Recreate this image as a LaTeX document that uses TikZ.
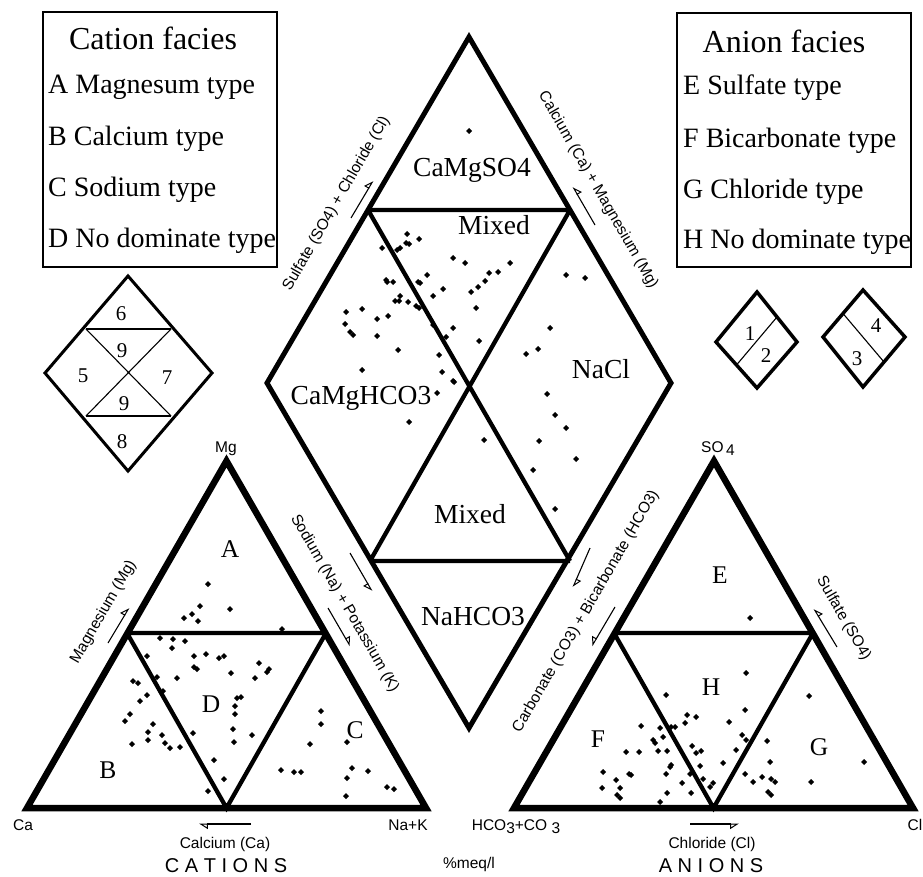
\documentclass[tikz,border=0pt]{standalone}
\usepackage{fontspec}
\setmainfont{Liberation Serif}
\setsansfont{Liberation Sans}
\usetikzlibrary{arrows.meta,calc}
\newcommand\myfs[1]{\fontsize{#1}{#1}\selectfont}
\begin{document}
\begin{tikzpicture}[x=1pt,y=-1pt,
  outer/.style={line width=6.5pt,line join=miter},
  innerl/.style={line width=4.3pt},
  dout/.style={line width=5pt,line join=miter},
  dinn/.style={line width=4.3pt},
  sdout/.style={line width=3pt,line join=miter},
  boxl/.style={line width=1.4pt},
  big/.style={font=\myfs{32},anchor=base,inner sep=0pt},
  item/.style={font=\myfs{28},anchor=base west,inner sep=0pt},
  reg/.style={font=\myfs{27.5},anchor=base,inner sep=0pt},
  tlet/.style={font=\myfs{25.5},anchor=base,inner sep=0pt},
  num/.style={font=\myfs{21},anchor=base,inner sep=0pt},
  ax/.style={font=\sffamily\myfs{15.5},inner sep=0pt},
  axb/.style={ax,anchor=base},
  ttl/.style={font=\sffamily\myfs{20},anchor=base,inner sep=0pt},
  arrL/.style={line width=1.1pt,-{Triangle[open,harpoon,length=8pt,width=10pt,line width=1pt]}},
  arrR/.style={line width=1.1pt,-{Triangle[open,harpoon,swap,length=8pt,width=10pt,line width=1pt]}},
  dot/.style={fill=black},
]
\useasboundingbox (0,0) rectangle (923,877);
\fill[white] (0,0) rectangle (923,877);

% ---------- legend boxes ----------
\draw[boxl] (43,12) rectangle (277,267);
\node[big] (ct) at (153,50) {Cation facies};
\node[item] (ca) at (48,94) {A Magnesum type};
\node[item] (cb) at (48,146) {B Calcium type};
\node[item] (cc) at (48,197) {C Sodium type};
\begin{scope}
\clip (40,200) rectangle (277,267);
\node[item] (cd) at (48,248) {D No dominate type};
\end{scope}

\draw[boxl] (677,13) rectangle (911,267);
\node[big] (at) at (784,53) {Anion facies};
\node[item] (ae) at (683,95) {E Sulfate type};
\node[item] (af) at (683,148) {F Bicarbonate type};
\node[item] (ag) at (683,199) {G Chloride type};
\begin{scope}
\clip (675,205) rectangle (911,267);
\node[item] (ah) at (683,249) {H No dominate type};
\end{scope}

% ---------- small diamond (left) ----------
\coordinate (sT) at (128,276); \coordinate (sL) at (45,373);
\coordinate (sR) at (212,373); \coordinate (sB) at (128,471);
\coordinate (s1) at (86,329); \coordinate (s2) at (171,329);
\coordinate (s3) at (86,416); \coordinate (s4) at (171,416);
\draw[line width=2pt] (s1) -- (s2) (s3) -- (s4);
\draw[line width=1.1pt] (s1) -- (s4) (s2) -- (s3);
\draw[sdout] (sT) -- (sR) -- (sB) -- (sL) -- cycle;
\node[num] (n6) at (121,320) {6};
\node[num] (n9a) at (122,357) {9};
\node[num] (n5) at (83,382) {5};
\node[num] (n7) at (167,384) {7};
\node[num] (n9b) at (124,410) {9};
\node[num] (n8) at (122,448) {8};

% ---------- small diamonds (right) ----------
\coordinate (aT) at (757,292); \coordinate (aL) at (716,342);
\coordinate (aR) at (797,342); \coordinate (aB) at (757,388);
\draw[line width=1.1pt] ($(aT)!0.5!(aR)$) -- ($(aL)!0.5!(aB)$);
\draw[sdout,line width=3.5pt] (aT) -- (aR) -- (aB) -- (aL) -- cycle;
\node[num] (n1) at (750,340) {1};
\node[num] (n2) at (766,362) {2};

\coordinate (bT) at (863,290); \coordinate (bL) at (823,337);
\coordinate (bR) at (905,337); \coordinate (bB) at (863,387);
\draw[line width=1.1pt] ($(bT)!0.5!(bL)$) -- ($(bR)!0.5!(bB)$);
\draw[sdout,line width=3.5pt] (bT) -- (bR) -- (bB) -- (bL) -- cycle;
\node[num] (n4) at (876,332) {4};
\node[num] (n3) at (857,365) {3};

% ---------- central diamond ----------
\coordinate (dT) at (469,37); \coordinate (dL) at (267,383);
\coordinate (dR) at (671,383); \coordinate (dB) at (469,728);
\coordinate (dUL) at (368,210); \coordinate (dUR) at (570,210);
\coordinate (dLL) at (370,561); \coordinate (dLR) at (570,561);
\draw[dinn] (dUL) -- (dUR) (dLL) -- (dLR) (dUL) -- (dLR) (dUR) -- (dLL);
\draw[dout] (dT) -- (dR) -- (dB) -- (dL) -- cycle;
\node[reg] (r1) at (472,177) {CaMgSO4};
\node[reg] (r2) at (494,235) {Mixed};
\node[reg] (r3) at (361,404) {CaMgHCO3};
\node[reg] (r4) at (601,378) {NaCl};
\node[reg] (r5) at (470,523) {Mixed};
\node[reg] (r6) at (473,625) {NaHCO3};

% ---------- cation triangle ----------
\coordinate (cT) at (226.5,461); \coordinate (cL) at (27,808);
\coordinate (cR) at (426,808); \coordinate (cML) at (127,633);
\coordinate (cMR) at (326,633); \coordinate (cBM) at (226.5,808);
\draw[innerl] (cML) -- (cMR) (cML) -- (cBM) -- (cMR);
\draw[outer] (cT) -- (cR) -- (cL) -- cycle;
\node[tlet] (lA) at (230,557) {A};
\node[tlet] (lB) at (108,778) {B};
\node[tlet] (lC) at (355,738) {C};
\node[tlet] (lD) at (211,712) {D};

% ---------- anion triangle ----------
\coordinate (nT) at (714,461); \coordinate (nL) at (514,808);
\coordinate (nR) at (913,808); \coordinate (nML) at (614,633);
\coordinate (nMR) at (813,633); \coordinate (nBM) at (713.5,808);
\draw[innerl] (nML) -- (nMR) (nML) -- (nBM) -- (nMR);
\draw[outer] (nT) -- (nR) -- (nL) -- cycle;
\node[tlet] (lE) at (720,583) {E};
\node[tlet] (lF) at (598,747) {F};
\node[tlet] (lG) at (819,755) {G};
\node[tlet] (lH) at (711,695) {H};

% ---------- axis texts ----------
\node[axb] (mg) at (226,452) {Mg};
\node[axb] (ca0) at (23,830) {Ca};
\node[axb] (nak) at (408,830) {Na+K};
\node[axb] (cac) at (225,848) {Calcium (Ca)};
\node[ttl] (cat) at (226,872) {C A T I O N S};
\node[axb] (so4) at (718,452) {SO\,\raisebox{-3pt}{4}};
\node[axb] (hco) at (516,830) {HCO\raisebox{-3pt}{3}+CO\ \raisebox{-3pt}{3}};
\node[axb] (cl) at (915,830) {Cl};
\node[axb] (chl) at (712,848) {Chloride (Cl)};
\node[ttl] (ani) at (711,872) {A N I O N S};
\node[axb] (meq) at (469,868) {\%meq/l};

\node[ax,rotate=60] (t1) at (336.5,203.5) {Sulfate (SO4) + Chloride (Cl)};
\node[ax,rotate=-60] (t2) at (598,190) {Calcium (Ca) + Magnesium (Mg)};
\node[ax,rotate=60] (t3) at (586,611.5) {Carbonate (CO3) + Bicarbonate (HCO3)};
\node[ax,rotate=60] (t4) at (103.5,612) {Magnesium (Mg)};
\node[ax,rotate=-60] (t5) at (344.5,603.5) {Sodium (Na) + Potassium (K)};
\node[ax,rotate=-60] (t6) at (843.5,618.5) {Sulfate (SO4)};

% ---------- arrows ----------
\coordinate (a1s) at (351,218); \coordinate (a1e) at (373,181);
\coordinate (a2s) at (595,225); \coordinate (a2e) at (573,187);
\coordinate (a3s) at (350,553); \coordinate (a3e) at (372,591);
\coordinate (a4s) at (328,608); \coordinate (a4e) at (350,646);
\coordinate (a5s) at (590,548); \coordinate (a5e) at (573,587);
\coordinate (a6s) at (615,607); \coordinate (a6e) at (592,646);
\coordinate (a7s) at (108,643); \coordinate (a7e) at (129,608);
\coordinate (a8s) at (251,824); \coordinate (a8e) at (199,824);
\coordinate (a9s) at (690,824); \coordinate (a9e) at (739,824);
\coordinate (a10s) at (837,647); \coordinate (a10e) at (814,609);
\draw[arrL] (a1s) -- (a1e);
\draw[arrR] (a2s) -- (a2e);
\draw[arrR] (a3s) -- (a3e);
\draw[arrL] (a4s) -- (a4e);
\draw[arrL] (a5s) -- (a5e);
\draw[arrR] (a6s) -- (a6e);
\draw[arrL] (a7s) -- (a7e);
\draw[arrL] (a8s) -- (a8e);
\draw[arrR] (a9s) -- (a9e);
\draw[arrR] (a10s) -- (a10e);

% ---------- data points ----------
\foreach \px/\py in {208/584,200/606,192/614,184/618,198/621,230/609,282/629,160/638,173/639,185/641,172/648,147/656,194/656,206/654,219/658,224/656,194/667,197/669,231/673,259/663,269/669,267/672,255/678,177/678,157/677,133/681,138/683,163/691,147/695,140/701,237/698,241/697,235/706,235/714,130/714,125/721,153/724,148/732,162/735,193/733,233/729,252/735,148/740,165/743,170/748,180/747,132/744,234/742,321/711,321/724,310/744,347/742,214/760,224/779,208/791,281/770,294/772,301/772,352/768,368/771,347/778,387/787,394/789,346/796}
  \fill[dot] (\px,\py) +(-3,0) -- +(0,3) -- +(3,0) -- +(0,-3) -- cycle;
\foreach \px/\py in {750/618,746/673,666/695,745/710,809/696,687/715,696/717,685/723,729/722,641/726,660/728,671/727,675/727,663/737,742/735,653/740,746/740,767/741,655/743,692/746,658/751,667/751,626/752,639/752,696/753,701/751,736/750,723/763,770/762,864/762,671/765,700/766,670/767,603/772,629/774,631/775,666/774,690/774,745/774,762/777,771/779,775/782,703/779,713/783,616/780,682/783,753/782,811/782,710/787,602/788,620/788,667/793,691/793,768/792,771/795,617/795,620/798,660/802}
  \fill[dot] (\px,\py) +(-3,0) -- +(0,3) -- +(3,0) -- +(0,-3) -- cycle;
\foreach \px/\py in {469/131,407/234,419/239,406/243,409/244,400/248,397/250,382/248,453/258,465/263,510/263,498/272,489/273,485/281,478/287,471/292,427/275,418/282,420/283,386/280,387/282,393/282,443/289,433/296,400/296,395/301,399/301,408/302,416/306,419/308,362/309,346/312,476/308,388/316,377/319,345/324,350/332,353/335,377/336,453/328,446/337,433/325,479/341,398/350,439/355,362/370,442/372,453/381,437/393,409/422,550/328,538/349,526/354,566/275,585/278,547/394,555/415,566/428,454/382,484/440,539/441,576/459,533/470,555/509}
  \fill[dot] (\px,\py) +(-3,0) -- +(0,3) -- +(3,0) -- +(0,-3) -- cycle;
\end{tikzpicture}
\end{document}
